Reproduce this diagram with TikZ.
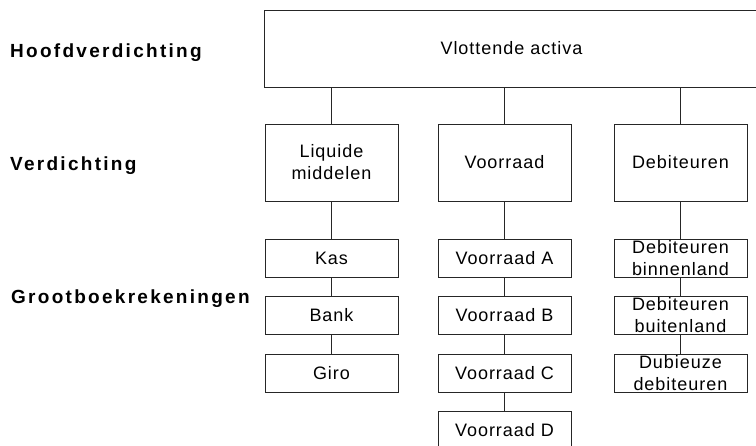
\documentclass[tikz,border=0pt]{standalone}
\usepackage{fontspec}
\setmainfont{Liberation Sans}
\newfontfamily\boxfont{Liberation Sans}[LetterSpace=5.5]
\newfontfamily\levelfont{Liberation Sans}[LetterSpace=12]
\begin{document}
\begin{tikzpicture}[x=1pt,y=-1pt,
  box/.style={draw=black!85, line width=0.8pt, inner sep=0pt, align=center,
    font=\boxfont\fontsize{18}{22}\selectfont, minimum width=133pt},
  big/.style={box, minimum height=77pt},
  small/.style={box, minimum height=38pt},
  level/.style={anchor=base west, inner sep=0pt,
    font=\levelfont\bfseries\fontsize{19}{22}\selectfont},
  link/.style={draw=black!85, line width=0.8pt}]
\useasboundingbox (0,0) rectangle (756,446);
% top
\node[big, minimum width=495pt] (top) at (511.5,48.5) {Vlottende activa};
% middle level
\node[big] (liq) at (331.5,162.5) {Liquide\\middelen};
\node[big] (voo) at (504.5,162.5) {Voorraad};
\node[big] (deb) at (680.5,162.5) {Debiteuren};
% bottom level
\node[small] (kas)  at (331.5,258)   {Kas};
\node[small] (bank) at (331.5,315.5) {Bank};
\node[small] (giro) at (331.5,373)   {Giro};
\node[small] (va) at (504.5,258)   {Voorraad A};
\node[small] (vb) at (504.5,315.5) {Voorraad B};
\node[small] (vc) at (504.5,373)   {Voorraad C};
\node[small] (vd) at (504.5,430.5) {Voorraad D};
\node[small] (db) at (680.5,258)   {Debiteuren\\binnenland};
\node[small] (dbu) at (680.5,315.5) {Debiteuren\\buitenland};
\node[small] (dd) at (680.5,373)   {Dubieuze\\debiteuren};
% connectors
\draw[link] (liq.north |- top.south) -- (liq.north);
\draw[link] (voo.north |- top.south) -- (voo.north);
\draw[link] (deb.north |- top.south) -- (deb.north);
\draw[link] (liq.south) -- (kas.north);
\draw[link] (kas.south) -- (bank.north);
\draw[link] (bank.south) -- (giro.north);
\draw[link] (voo.south) -- (va.north);
\draw[link] (va.south) -- (vb.north);
\draw[link] (vb.south) -- (vc.north);
\draw[link] (vc.south) -- (vd.north);
\draw[link] (deb.south) -- (db.north);
\draw[link] (db.south) -- (dbu.north);
\draw[link] (dbu.south) -- (dd.north);
% level labels
\node[level] (l1) at (10,58)  {Hoofdverdichting};
\node[level] (l2) at (10,171) {Verdichting};
\node[level] (l3) at (11,304) {Grootboekrekeningen};
\end{tikzpicture}
\end{document}
